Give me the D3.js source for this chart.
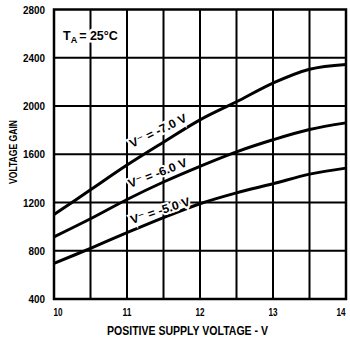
<!DOCTYPE html>
<html>
<head>
<meta charset="utf-8">
<script src="https://cdn.jsdelivr.net/npm/d3@7"></script>
<style>
  body { margin: 0; background: #fff; }
  text { font-family: "Liberation Sans", "DejaVu Sans", sans-serif; font-weight: bold; fill: #000; }
</style>
</head>
<body>
<script>
// supply voltages (x) and gain for each negative supply
var volts = [10, 10.5, 11, 11.5, 12, 12.5, 13, 13.5, 14];
var gain7 = [1100, 1305, 1510, 1700, 1885, 2035, 2190, 2305, 2345];
var gain6 = [915, 1065, 1225, 1370, 1500, 1620, 1720, 1805, 1860];
var gain5 = [695, 820, 950, 1075, 1190, 1280, 1355, 1435, 1485];
var seriesNames = ["V\u207B = -7.0 V", "V\u207B = -6.0 V", "V\u207B = -5.0 V"];
var yTicks = [400, 800, 1200, 1600, 2000, 2400, 2800];
var xTicks = [10, 11, 12, 13, 14];
var xGrid = [10.5, 11, 11.5, 12, 12.5, 13, 13.5];

var svg = d3.select("body")
    .append("svg")
    .attr("width", 350)
    .attr("height", 341);

var x = d3.scaleLinear().domain([10, 14]).range([54, 346]);
var y = d3.scaleLinear().domain([400, 2800]).range([299, 9.5]);

// grid
svg.selectAll(".vg").data(xGrid).enter().append("line")
    .attr("x1", d => x(d)).attr("x2", d => x(d))
    .attr("y1", y(2800)).attr("y2", y(400))
    .attr("stroke", "#000").attr("stroke-width", 2);

svg.selectAll(".hg").data(yTicks.slice(1, -1)).enter().append("line")
    .attr("x1", x(10)).attr("x2", x(14))
    .attr("y1", d => y(d)).attr("y2", d => y(d))
    .attr("stroke", "#000").attr("stroke-width", 2);

// curves
var line = d3.line()
    .x((d, i) => x(volts[i]))
    .y(d => y(d))
    .curve(d3.curveCatmullRom);

[gain7, gain6, gain5].forEach(function (g) {
  svg.append("path")
    .attr("d", line(g))
    .attr("fill", "none")
    .attr("stroke", "#000")
    .attr("stroke-width", 3);
});

// frame
svg.append("rect")
    .attr("x", x(10)).attr("y", y(2800))
    .attr("width", x(14) - x(10)).attr("height", y(400) - y(2800))
    .attr("fill", "none").attr("stroke", "#000").attr("stroke-width", 2.5);

// tick labels (narrow lettering, squeezed with textLength)
svg.selectAll(".yl").data(yTicks).enter().append("text")
    .attr("x", 45).attr("y", d => y(d) + 4)
    .attr("text-anchor", "end")
    .attr("font-size", 11.5)
    .attr("textLength", d => String(d).length * 5.5)
    .attr("lengthAdjust", "spacingAndGlyphs")
    .text(d => d);

svg.selectAll(".xl").data(xTicks).enter().append("text")
    .attr("x", d => d == 10 ? x(d) + 4 : d == 14 ? x(d) - 5 : x(d)).attr("y", 316)
    .attr("text-anchor", "middle")
    .attr("font-size", 11.5)
    .attr("textLength", 9)
    .attr("lengthAdjust", "spacingAndGlyphs")
    .text(d => d);

// axis titles
svg.append("text")
    .attr("x", 107).attr("y", 335)
    .attr("font-size", 13)
    .attr("textLength", 161)
    .attr("lengthAdjust", "spacingAndGlyphs")
    .text("POSITIVE SUPPLY VOLTAGE - V");

svg.append("text")
    .attr("transform", "translate(17,184) rotate(-90)")
    .attr("font-size", 11.5)
    .attr("textLength", 64)
    .attr("lengthAdjust", "spacingAndGlyphs")
    .text("VOLTAGE GAIN");

// temperature note
var ta = svg.append("text")
    .attr("x", 63).attr("y", 40)
    .attr("font-size", 12.5)
    .attr("stroke", "#fff").attr("stroke-width", 5)
    .attr("paint-order", "stroke");
ta.append("tspan").text("T");
ta.append("tspan").attr("font-size", 9).attr("dy", 3).text("A");
ta.append("tspan").attr("dy", -3).attr("dx", 2).text("= 25\u00B0C");

// curve labels
var labelPos = [[132, 148, -26], [130, 188, -21], [132, 224, -18]];
svg.selectAll(".cl").data(seriesNames).enter().append("text")
    .attr("transform", (d, i) => "translate(" + labelPos[i][0] + "," + labelPos[i][1] + ") rotate(" + labelPos[i][2] + ")")
    .attr("font-size", 12)
    .attr("textLength", 62)
    .attr("lengthAdjust", "spacingAndGlyphs")
    .attr("stroke", "#fff").attr("stroke-width", 4)
    .attr("paint-order", "stroke")
    .text(d => d);
</script>
</body>
</html>
